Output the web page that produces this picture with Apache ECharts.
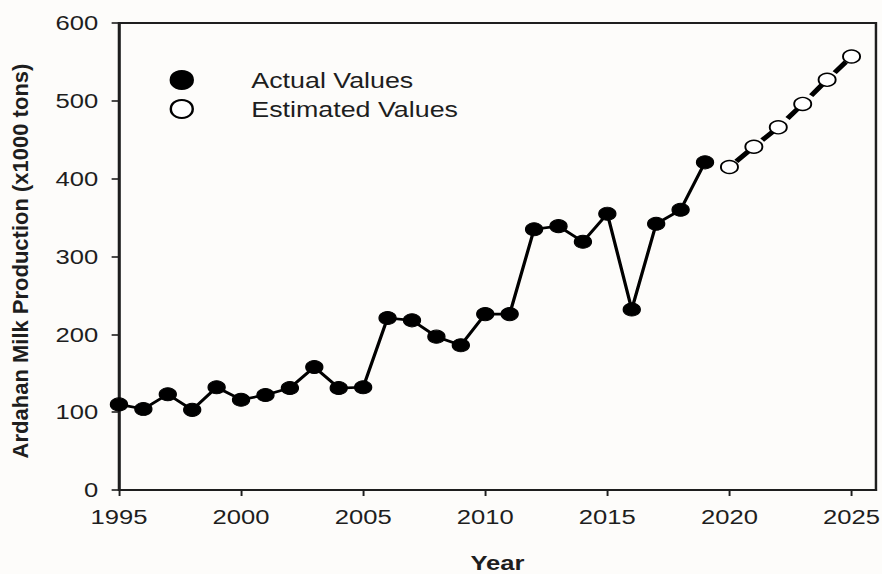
<!DOCTYPE html>
<html>
<head>
<meta charset="utf-8">
<title>Ardahan Milk Production</title>
<script src="https://cdn.jsdelivr.net/npm/echarts@6/dist/echarts.min.js"></script>
<style>
  html, body { margin: 0; padding: 0; background: #fdfcfa; overflow: hidden; }
  /* the figure is laid out narrow and widened horizontally */
  #chart { width: 723px; height: 574px; transform: scaleX(1.22); transform-origin: 0 0; }
</style>
</head>
<body>
<div id="chart"></div>
<script>
// Observed production, 1995-2019 (x1000 tons)
const actualYears = [1995, 1996, 1997, 1998, 1999, 2000, 2001, 2002, 2003, 2004,
                     2005, 2006, 2007, 2008, 2009, 2010, 2011, 2012, 2013, 2014,
                     2015, 2016, 2017, 2018, 2019];
const actualValues = [110, 104, 123, 103, 132, 116, 122, 131, 158, 131,
                      132, 221, 218, 197, 186, 226, 226, 335, 339, 319,
                      355, 232, 342, 360, 421];

// Forecast, 2020-2025
const estimatedYears = [2020, 2021, 2022, 2023, 2024, 2025];
const estimatedValues = [415, 441, 466, 496, 527, 557];

// Axis ticks
const yearTicks = [1995, 2000, 2005, 2010, 2015, 2020, 2025];
const productionTicks = [0, 100, 200, 300, 400, 500, 600];

const seriesNames = ['Actual Values', 'Estimated Values'];
const xTitle = 'Year';
const yTitle = 'Ardahan Milk Production (x1000 tons)';

const pairs = (xs, ys) => xs.map((x, i) => [x, ys[i]]);

const ink = '#1e1e1e';
const FONT = '"Liberation Sans", Arial, sans-serif';
const STRETCH = 1.22;

const chart = echarts.init(document.getElementById('chart'), null, { renderer: 'svg' });

chart.setOption({
  backgroundColor: '#fdfcfa',
  animation: false,
  textStyle: { fontFamily: FONT },
  grid: {
    left: 97.5, right: 5, top: 23, bottom: 84,
    outerBoundsMode: 'none',
    containLabel: false,
    show: true, borderColor: ink, borderWidth: 2, backgroundColor: 'transparent'
  },
  legend: {
    data: seriesNames,
    orient: 'vertical',
    left: 134, top: 64,
    padding: 5,
    icon: 'circle',
    itemWidth: 18, itemHeight: 18,
    itemGap: 7,
    textStyle: { fontSize: 22, color: ink, fontFamily: FONT, padding: [0, 0, 0, 43] }
  },
  xAxis: {
    type: 'value',
    min: 1995, max: 2026, interval: 5,
    name: xTitle,
    nameLocation: 'middle',
    nameGap: 62,
    nameTextStyle: { fontSize: 21, fontWeight: 'bold', color: ink, fontFamily: FONT },
    splitLine: { show: false },
    axisLine: { show: true, lineStyle: { color: ink, width: 2 } },
    axisTick: { show: true, inside: false, length: 6, lineStyle: { color: ink, width: 1.6 },
                customValues: yearTicks },
    axisLabel: { fontSize: 21, color: ink, margin: 16, fontFamily: FONT,
                 customValues: yearTicks, formatter: v => String(v) }
  },
  yAxis: {
    type: 'value',
    min: 0, max: 600, interval: 100,
    splitLine: { show: false },
    axisLine: { show: true, lineStyle: { color: ink, width: 2 } },
    axisTick: { show: true, inside: false, length: 6, lineStyle: { color: ink, width: 1.6 },
                customValues: productionTicks },
    axisLabel: { fontSize: 21, color: ink, margin: 17, fontFamily: FONT,
                 customValues: productionTicks, formatter: v => String(v) }
  },
  graphic: [{
    type: 'text',
    x: 16.5, y: 261,
    rotation: Math.PI / 2,
    scaleY: 1 / STRETCH,
    style: {
      text: yTitle,
      fill: ink,
      font: 'bold 22px ' + FONT,
      align: 'center',
      verticalAlign: 'middle'
    }
  }],
  series: [
    {
      name: seriesNames[0],
      type: 'line',
      data: pairs(actualYears, actualValues),
      symbol: 'circle',
      symbolSize: [14, 13],
      lineStyle: { color: '#000', width: 2.7 },
      itemStyle: { color: '#000', borderColor: '#000', borderWidth: 1 },
      z: 3
    },
    {
      name: seriesNames[1],
      type: 'line',
      data: pairs(estimatedYears, estimatedValues),
      symbol: 'circle',
      symbolSize: [14, 13],
      showAllSymbol: true,
      lineStyle: { color: '#000', width: 4.5, type: [14, 16], dashOffset: 22 },
      itemStyle: { color: '#ffffff', borderColor: '#000', borderWidth: 1.5 },
      z: 3
    }
  ]
});
</script>
</body>
</html>
